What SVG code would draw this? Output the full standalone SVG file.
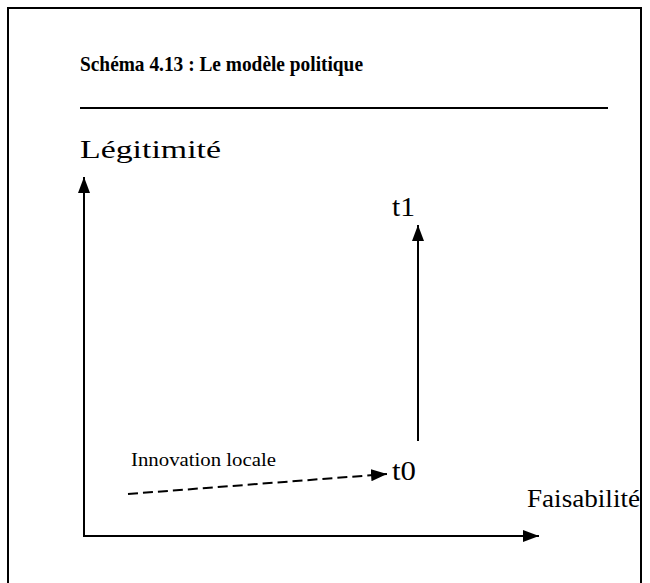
<svg xmlns="http://www.w3.org/2000/svg" width="650" height="583" viewBox="0 0 650 583">
<style>
.t{font-family:"Liberation Serif","Times New Roman",serif;fill:#000}
.ln{stroke:#000;stroke-width:2;fill:none}
</style>
<defs>
<marker id="a" viewBox="0 0 16 12" refX="16" refY="6" markerWidth="16" markerHeight="12" orient="auto" markerUnits="userSpaceOnUse">
<path d="M0,0 L16,6 L0,12 Z" fill="#000"/>
</marker>
</defs>
<rect width="650" height="583" fill="#fff"/>
<g id="frame">
<path class="ln" d="M8,600 L8,8 L641,8 L641,600"/>
</g>
<g id="title">
<text class="t" x="80" y="71" font-size="22" font-weight="bold" textLength="283" lengthAdjust="spacingAndGlyphs">Schéma 4.13 : Le modèle politique</text>
<line class="ln" x1="80" y1="108" x2="608" y2="108"/>
</g>
<g id="axis-y-label"><text class="t" x="80" y="158" font-size="26" textLength="141" lengthAdjust="spacingAndGlyphs">Légitimité</text></g>
<g id="axis-x-label"><text class="t" x="527" y="507" font-size="26" textLength="113" lengthAdjust="spacingAndGlyphs">Faisabilité</text></g>
<g id="t1"><text class="t" x="392" y="216" font-size="27" textLength="23" lengthAdjust="spacingAndGlyphs">t1</text></g>
<g id="t0"><text class="t" x="392" y="480" font-size="27" textLength="24" lengthAdjust="spacingAndGlyphs">t0</text></g>
<g id="innovation"><text class="t" x="131" y="466" font-size="18" textLength="145" lengthAdjust="spacingAndGlyphs">Innovation locale</text></g>
<g id="connectors">
<line class="ln" x1="84" y1="536" x2="84" y2="177" marker-end="url(#a)"/>
<line class="ln" x1="83" y1="536" x2="539" y2="536" marker-end="url(#a)"/>
<line class="ln" x1="418" y1="441" x2="418" y2="225" marker-end="url(#a)"/>
<line class="ln" x1="128" y1="494" x2="387" y2="474" stroke-dasharray="10,5" marker-end="url(#a)"/>
</g>
</svg>
